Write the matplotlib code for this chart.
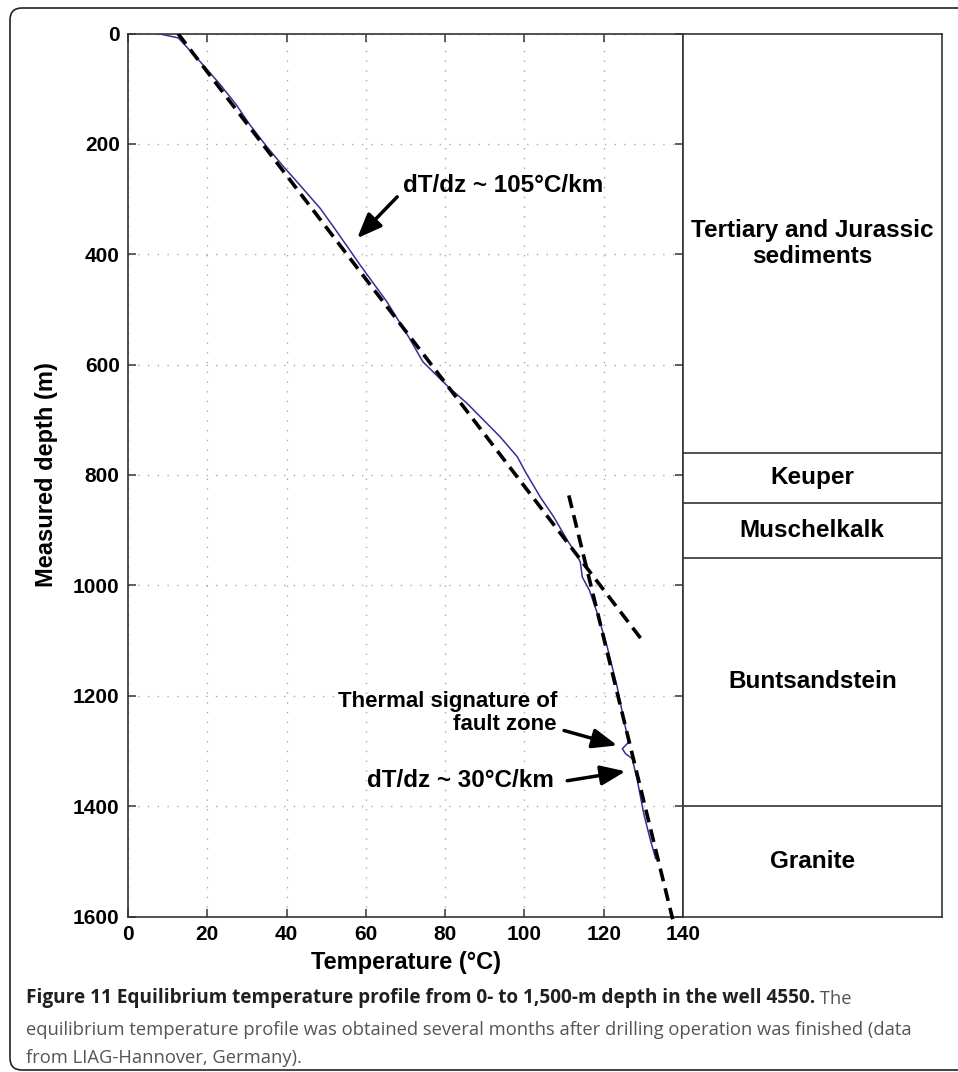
import matplotlib
matplotlib.use("Agg")
import matplotlib.pyplot as plt
from matplotlib.patches import FancyBboxPatch

# ---- data ----
temp_c = [7.5, 12.7, 18.2, 23.2, 27.4, 30.8, 35.0, 39.2, 43.4, 48.5, 51.8, 55.6, 58.6,
          65.3, 70.8, 74.4, 80.9, 85.5, 90.6, 93.9, 98.2, 100.3, 104.0, 107.4, 110.8,
          113.3, 114.1, 114.6, 116.4, 118.4, 120.9, 123.4, 125.1, 126.3, 124.7, 125.5,
          127.2, 128.5, 130.1, 131.8, 133.1]
depth_m = [0, 8, 51, 92, 130, 166, 205, 241, 275, 317, 350, 389, 420,
           486, 550, 595, 641, 670, 707, 731, 767, 795, 840, 876, 918,
           946, 958, 985, 1009, 1051, 1112, 1184, 1245, 1284, 1296, 1305,
           1314, 1354, 1414, 1462, 1495]

fit1_depth = [0, 1105]
fit1_temp = [12.6, 130.3]
fit2_depth = [837, 1605]
fit2_temp = [111.2, 137.4]

strata_tops = [0, 760, 850, 950, 1400]
strata_bottom = 1600
strata_names = ["Tertiary and Jurassic\nsediments", "Keuper", "Muschelkalk",
                "Buntsandstein", "Granite"]

x_ticks = [0, 20, 40, 60, 80, 100, 120, 140]
y_ticks = [0, 200, 400, 600, 800, 1000, 1200, 1400, 1600]

# annotations: (text, text_xy, arrow_tail, arrow_tip)
ann_105 = ("dT/dz ~ 105°C/km", (69.4, 275), (67.9, 296), (57.8, 371))
ann_fault = ("Thermal signature of\nfault zone", (108.2, 1231), (110.0, 1263), (123.4, 1290))
ann_30 = ("dT/dz ~ 30°C/km", (107.4, 1354), (110.8, 1354), (125.5, 1337))

caption_bold = "Figure 11 Equilibrium temperature profile from 0- to 1,500-m depth in the well 4550."
caption_rest1 = " The"
caption_line2 = "equilibrium temperature profile was obtained several months after drilling operation was finished (data"
caption_line3 = "from LIAG-Hannover, Germany)."

# ---- figure ----
W, H = 958, 1072
fig = plt.figure(figsize=(W / 100, H / 100), dpi=100)
fig.patch.set_facecolor("white")

FONT = ["Liberation Sans", "DejaVu Sans"]
plt.rcParams["font.family"] = FONT

ax_l, ax_r, ax_t, ax_b = 128, 683, 33.5, 916.5
ax = fig.add_axes([ax_l / W, (H - ax_b) / H, (ax_r - ax_l) / W, (ax_b - ax_t) / H])
ax2 = fig.add_axes([ax_r / W, (H - ax_b) / H, (941.7 - ax_r) / W, (ax_b - ax_t) / H])

ax.set_xlim(0, 140)
ax.set_ylim(1600, 0)
ax.set_xticks(x_ticks)
ax.set_yticks(y_ticks)
ax.grid(True, linestyle=(0, (1, 6)), color="#a8a8a8", lw=1.0)
ax.tick_params(direction="in", length=6, width=1.2, top=True, right=True,
               labelsize=15, pad=6, color="#444444", labelcolor="black")
for lab in ax.get_xticklabels() + ax.get_yticklabels():
    lab.set_fontweight("bold")
for sp in ax.spines.values():
    sp.set_color("#333333")
    sp.set_linewidth(1.2)

ax.plot(temp_c, depth_m, color="#3a2d96", lw=1.1, zorder=3)
ax.plot(fit1_temp, fit1_depth, color="black", lw=2.6, linestyle=(0, (3.6, 2.0)), zorder=4)
ax.plot(fit2_temp, fit2_depth, color="black", lw=2.6, linestyle=(0, (3.6, 2.0)), zorder=4,
        clip_on=False)

ax.set_xlabel("Temperature (°C)", fontsize=17, fontweight="bold")
ax.set_ylabel("Measured depth (m)", fontsize=17, fontweight="bold")
ax.xaxis.set_label_coords(0.5, -(951 - ax_b) / (ax_b - ax_t))
ax.yaxis.set_label_coords((58.5 - ax_l) / (ax_r - ax_l), 0.5)

arrow_kw = dict(arrowstyle="-|>,head_length=1.5,head_width=0.6", mutation_scale=10,
                lw=2.5, color="black", shrinkA=0, shrinkB=0)

t, txy, tail, tip = ann_105
ax.text(txy[0], txy[1], t, ha="left", va="center", fontsize=17.5, fontweight="bold")
ax.annotate("", xy=tip, xytext=tail, arrowprops=arrow_kw)

t, txy, tail, tip = ann_fault
ax.text(txy[0], txy[1], t, ha="right", va="center", fontsize=16, fontweight="bold",
        multialignment="right", linespacing=1.15)
ax.annotate("", xy=tip, xytext=tail, arrowprops=arrow_kw)

t, txy, tail, tip = ann_30
ax.text(txy[0], txy[1], t, ha="right", va="center", fontsize=17.5, fontweight="bold")
ax.annotate("", xy=tip, xytext=tail, arrowprops=arrow_kw)

# strata column
ax2.set_xlim(0, 1)
ax2.set_ylim(1600, 0)
ax2.set_xticks([])
ax2.set_yticks([])
for sp in ax2.spines.values():
    sp.set_color("#333333")
    sp.set_linewidth(1.2)
bounds = strata_tops + [strata_bottom]
for top in strata_tops[1:]:
    ax2.axhline(top, color="#333333", lw=1.2)
for i, name in enumerate(strata_names):
    mid = (bounds[i] + bounds[i + 1]) / 2
    ax2.text(0.5, mid, name, ha="center", va="center", fontsize=17.5,
             fontweight="bold", linespacing=1.15)

# outer rounded frame
frame = FancyBboxPatch((0.10, 0.02), 10.0, 10.62, boxstyle="round,pad=0,rounding_size=0.12",
                       transform=fig.dpi_scale_trans, fill=False, ec="#222222", lw=1.2)
fig.add_artist(frame)

# caption
CAP = ["Open Sans", "DejaVu Sans"]
t1 = fig.text(0.26, 0.69, caption_bold, transform=fig.dpi_scale_trans, family=CAP,
              fontweight="bold", fontsize=13.7, color="#231f20", va="baseline")
ax.annotate(caption_rest1, xy=(1, 0), xycoords=t1, va="bottom", ha="left", family=CAP,
            fontsize=13.2, color="#555555")
fig.text(0.26, 0.37, caption_line2, transform=fig.dpi_scale_trans, family=CAP,
         fontsize=13.2, color="#555555", va="baseline")
fig.text(0.26, 0.09, caption_line3, transform=fig.dpi_scale_trans, family=CAP,
         fontsize=13.2, color="#555555", va="baseline")

fig.savefig("out.png", dpi=100, facecolor="white")
